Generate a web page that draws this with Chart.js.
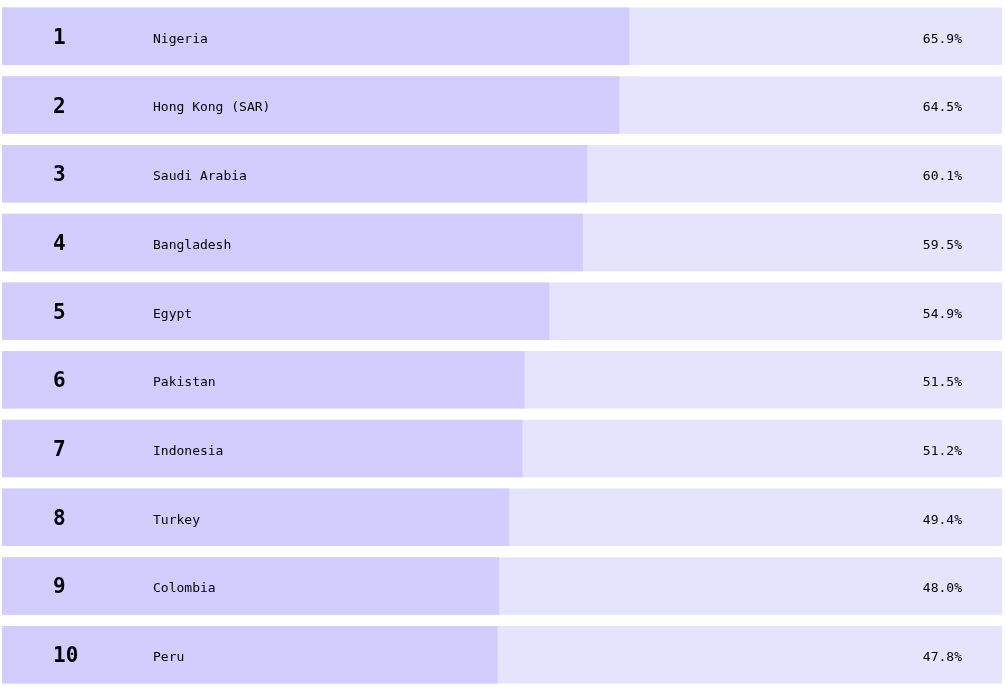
<!DOCTYPE html>
<html>
<head>
<meta charset="utf-8">
<script src="https://cdn.jsdelivr.net/npm/chart.js@4"></script>
<style>
  html, body { margin: 0; padding: 0; background: #fff; overflow: hidden; }
  body { border-left: 2px solid #e4e4e4; }
  #wrap { position: absolute; left: 2px; top: 2px; width: 1000px; height: 687px; }
</style>
</head>
<body>
<div id="wrap"><canvas id="rankChart"></canvas></div>
<script>
const countries = ['Nigeria', 'Hong Kong (SAR)', 'Saudi Arabia', 'Bangladesh', 'Egypt',
    'Pakistan', 'Indonesia', 'Turkey', 'Colombia', 'Peru'];
const shares = [65.9, 64.5, 60.1, 59.5, 54.9, 51.5, 51.2, 49.4, 48.0, 47.8];
const ranks = ['1', '2', '3', '4', '5', '6', '7', '8', '9', '10'];

// axis range so the bars line up with the picture
const X_MIN = -20.3;
const X_MAX = 117.1;

// draw rank, name and percent on each row
const rowText = {
    id: 'rowText',
    afterDatasetsDraw(chart) {
        const ctx = chart.ctx;
        const meta = chart.getDatasetMeta(0);
        const left = chart.chartArea.left;
        ctx.save();
        ctx.fillStyle = '#000';
        ctx.textBaseline = 'middle';
        meta.data.forEach(function (bar, i) {
            const y = bar.y + 3;
            ctx.font = 'bold 21px "DejaVu Sans Mono"';
            ctx.textAlign = 'left';
            ctx.fillText(ranks[i], left + 51, y - 1);
            ctx.font = '13px "DejaVu Sans Mono"';
            ctx.fillText(countries[i], left + 151, y);
            ctx.textAlign = 'right';
            ctx.fillText(shares[i].toFixed(1) + '%', left + 960, y);
        });
        ctx.restore();
    }
};

const ctx = document.getElementById('rankChart').getContext('2d');
new Chart(ctx, {
    type: 'bar',
    data: {
        labels: countries,
        datasets: [{
            data: shares,
            backgroundColor: '#d2ccff',
            base: X_MIN
        }, {
            data: countries.map(() => X_MAX),
            backgroundColor: '#e6e3fe',
            base: X_MIN
        }]
    },
    options: {
        indexAxis: 'y',
        responsive: true,
        maintainAspectRatio: false,
        animation: false,
        layout: { padding: 0 },
        datasets: {
            bar: { grouped: false, barPercentage: 1, categoryPercentage: 0.837, borderWidth: 0 }
        },
        scales: {
            x: { display: false, min: X_MIN, max: X_MAX },
            y: { display: false }
        },
        plugins: {
            legend: { display: false },
            tooltip: { enabled: false }
        }
    },
    plugins: [rowText]
});
</script>
</body>
</html>
